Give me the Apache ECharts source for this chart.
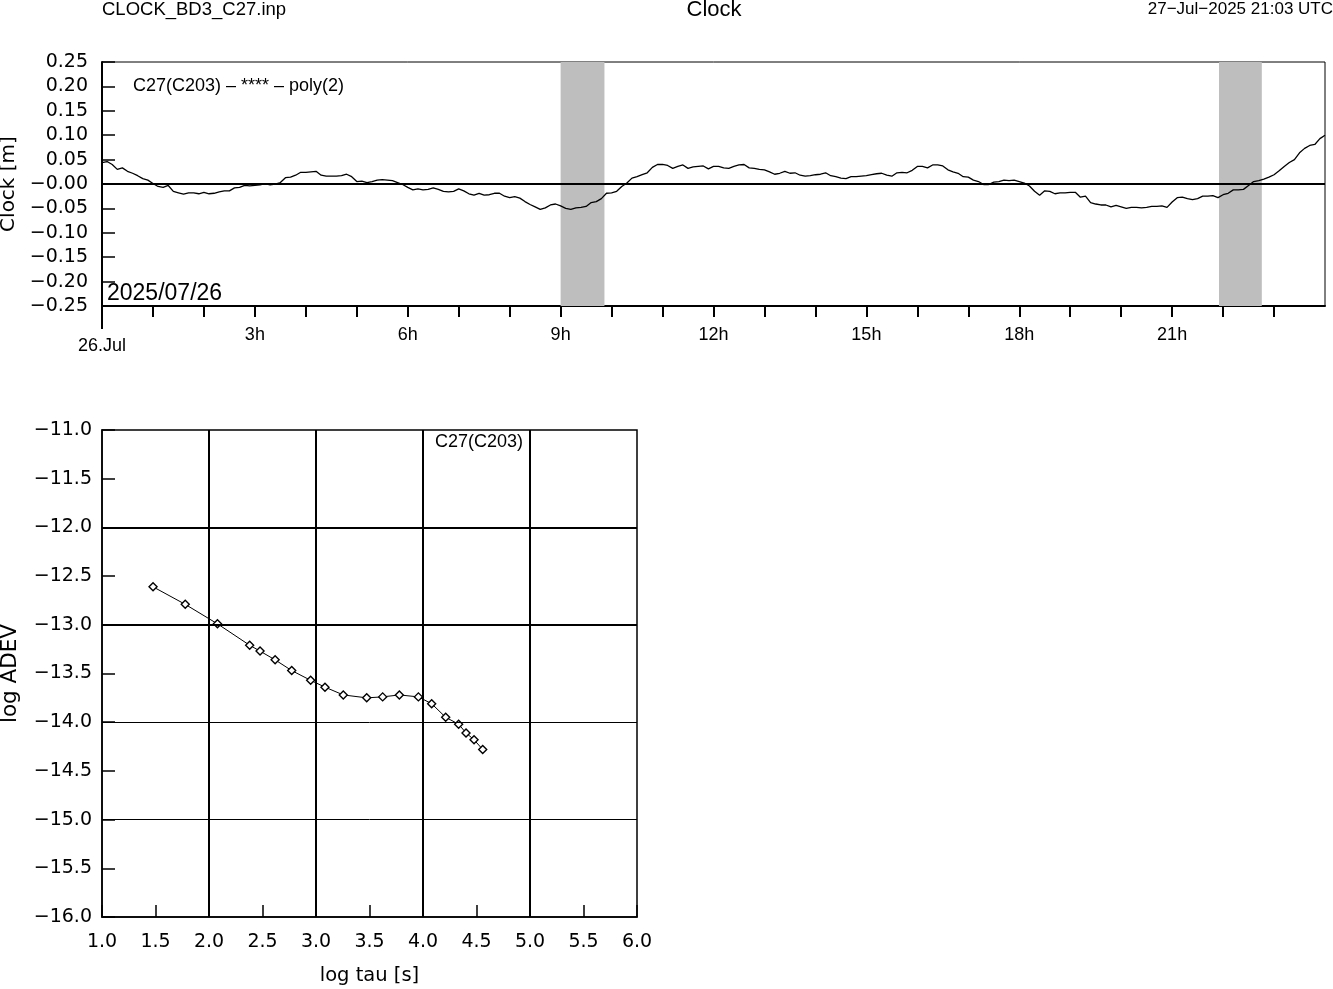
<!DOCTYPE html>
<html>
<head>
<meta charset="utf-8">
<script src="https://cdn.jsdelivr.net/npm/echarts@6/dist/echarts.min.js"></script>
<style>
html,body{margin:0;padding:0;background:#fff;}
#c{width:1333px;height:989px;}
</style>
</head>
<body>
<div id="c"></div>
<script>
// ---------- data ----------
const headerLeft = 'CLOCK_BD3_C27.inp';
const headerTitle = 'Clock';
const headerRight = '27\u2212Jul\u22122025 21:03 UTC';
const clockLegend = 'C27(C203) \u2013 **** \u2013 poly(2)';
const clockDateLabel = '2025/07/26';
const adevLegend = 'C27(C203)';

// clock residuals [m], sampled every 0.1 h from 0 h to 24 h
const clockStartHour = 0;
const clockStepHour = 0.1;
const clockValues = [
  0.044, 0.046, 0.040, 0.030, 0.033, 0.026, 0.022, 0.017, 0.011, 0.008,
  0.001, -0.005, -0.007, -0.003, -0.015, -0.018, -0.021, -0.018, -0.018, -0.020,
  -0.017, -0.020, -0.019, -0.016, -0.014, -0.014, -0.008, -0.007, -0.003, -0.004,
  -0.003, -0.002, 0.001, -0.002, 0.000, 0.003, 0.013, 0.014, 0.018, 0.024,
  0.024, 0.025, 0.026, 0.018, 0.016, 0.016, 0.016, 0.017, 0.020, 0.015,
  0.005, 0.006, 0.003, 0.005, 0.008, 0.009, 0.008, 0.007, 0.003, -0.001,
  -0.007, -0.012, -0.010, -0.012, -0.011, -0.008, -0.011, -0.015, -0.016, -0.015,
  -0.010, -0.014, -0.020, -0.023, -0.019, -0.023, -0.022, -0.019, -0.019, -0.025,
  -0.028, -0.026, -0.029, -0.036, -0.042, -0.047, -0.052, -0.049, -0.043, -0.041,
  -0.045, -0.050, -0.052, -0.049, -0.048, -0.046, -0.038, -0.036, -0.030, -0.019,
  -0.018, -0.015, -0.005, 0.002, 0.012, 0.015, 0.019, 0.023, 0.034, 0.040,
  0.040, 0.038, 0.032, 0.036, 0.039, 0.032, 0.035, 0.036, 0.037, 0.031,
  0.036, 0.036, 0.033, 0.032, 0.036, 0.039, 0.040, 0.033, 0.032, 0.030,
  0.029, 0.025, 0.020, 0.022, 0.026, 0.022, 0.023, 0.018, 0.016, 0.017,
  0.019, 0.020, 0.023, 0.017, 0.015, 0.012, 0.011, 0.015, 0.015, 0.016,
  0.017, 0.019, 0.021, 0.022, 0.018, 0.016, 0.023, 0.024, 0.023, 0.028,
  0.036, 0.036, 0.033, 0.039, 0.039, 0.037, 0.029, 0.025, 0.022, 0.015,
  0.014, 0.008, 0.005, -0.001, -0.001, 0.004, 0.005, 0.008, 0.007, 0.008,
  0.005, 0.002, -0.004, -0.015, -0.023, -0.014, -0.015, -0.020, -0.018, -0.018,
  -0.017, -0.017, -0.027, -0.025, -0.038, -0.041, -0.043, -0.043, -0.047, -0.044,
  -0.047, -0.050, -0.048, -0.048, -0.049, -0.048, -0.046, -0.046, -0.045, -0.048,
  -0.037, -0.028, -0.027, -0.030, -0.032, -0.030, -0.025, -0.025, -0.024, -0.028,
  -0.022, -0.019, -0.012, -0.012, -0.011, -0.003, 0.005, 0.007, 0.010, 0.014,
  0.019, 0.027, 0.036, 0.044, 0.050, 0.064, 0.073, 0.079, 0.081, 0.093,
  0.100
];
// data gaps (gray bands), hours
const gapStarts = [9.0, 21.92];
const gapEnds = [9.86, 22.76];

// Allan deviation
const logTau = [1.477, 1.778, 2.079, 2.380, 2.477, 2.618, 2.773, 2.950, 3.084, 3.255,
                3.474, 3.623, 3.779, 3.957, 4.081, 4.212, 4.333, 4.402, 4.477, 4.558];
const logAdev = [-12.61, -12.79, -12.99, -13.21, -13.27, -13.36, -13.47, -13.57, -13.64, -13.72,
                 -13.75, -13.74, -13.72, -13.74, -13.81, -13.95, -14.02, -14.11, -14.18, -14.28];
const adevThickLinesX = [2, 3, 4, 5];
const adevThickLinesY = [-12, -13];
const adevThinLinesY = [-14, -15];

// ---------- chart ----------
const FONT = 'Liberation Sans';
const WIDE = 'DejaVu Sans';
const minus = s => s.replace('-', '\u2212');
const clockData = clockValues.map((v, i) => [+(clockStartHour + i * clockStepHour).toFixed(2), v]);
const adevData = logTau.map((t, i) => [t, logAdev[i]]);

const chart = echarts.init(document.getElementById('c'), null, {renderer: 'canvas'});
const option = {
  backgroundColor: '#fff',
  animation: false,
  textStyle: {fontFamily: FONT, color: '#000'},
  grid: [
    {left: 102, top: 62, width: 1223, height: 244, containLabel: false, outerBoundsMode: 'none',
     show: true, borderColor: '#000', borderWidth: 1, backgroundColor: 'transparent'},
    {left: 102, top: 430, width: 535, height: 487, containLabel: false, outerBoundsMode: 'none',
     show: true, borderColor: '#000', borderWidth: 1.5, backgroundColor: 'transparent'}
  ],
  xAxis: [
    {
      gridIndex: 0, type: 'value', min: 0, max: 24, interval: 1,
      axisLine: {onZero: false, lineStyle: {color: '#000', width: 2}},
      axisTick: {inside: false, length: 11, lineStyle: {color: '#000', width: 2}},
      axisLabel: {
        margin: 20, fontSize: 18, fontFamily: FONT, color: '#000',
        showMinLabel: true, showMaxLabel: false,
        formatter: v => v === 0 ? '{d|26.Jul}' : (v % 3 === 0 && v < 24 ? v + 'h' : ''),
        rich: {d: {fontSize: 18, fontFamily: FONT, color: '#000', padding: [11, 0, 0, 0]}}
      },
      splitLine: {show: false}
    },
    {
      gridIndex: 1, type: 'value', min: 1, max: 6, interval: 0.5,
      name: 'log tau [s]', nameLocation: 'middle', nameGap: 49,
      nameTextStyle: {fontSize: 19.5, fontFamily: WIDE, color: '#000'},
      axisLine: {onZero: false, lineStyle: {color: '#000', width: 1.5}},
      axisTick: {inside: true, length: 12, lineStyle: {color: '#000', width: 1.5}},
      axisLabel: {margin: 16, fontSize: 19, fontFamily: WIDE, color: '#000', formatter: v => minus(v.toFixed(1))},
      splitLine: {show: false}
    }
  ],
  yAxis: [
    {
      gridIndex: 0, type: 'value', min: -0.25, max: 0.25, interval: 0.05,
      name: 'Clock [m]', nameLocation: 'middle', nameGap: 81,
      nameTextStyle: {fontSize: 20, fontFamily: WIDE, color: '#000'},
      axisLine: {onZero: false, lineStyle: {color: '#000', width: 2}},
      axisTick: {inside: true, length: 13, lineStyle: {color: '#000', width: 1.5}},
      axisLabel: {margin: 14, fontSize: 19, fontFamily: WIDE, color: '#000',
        formatter: v => Math.abs(v) < 1e-9 ? '\u22120.00' : minus(v.toFixed(2))},
      splitLine: {show: false}
    },
    {
      gridIndex: 1, type: 'value', min: -16, max: -11, interval: 0.5,
      name: 'log ADEV', nameLocation: 'middle', nameGap: 81,
      nameTextStyle: {fontSize: 21.5, fontFamily: WIDE, color: '#000'},
      axisLine: {onZero: false, lineStyle: {color: '#000', width: 1.5}},
      axisTick: {inside: true, length: 13, lineStyle: {color: '#000', width: 1.5}},
      axisLabel: {margin: 10, fontSize: 19, fontFamily: WIDE, color: '#000', formatter: v => minus(v.toFixed(1))},
      splitLine: {show: false}
    }
  ],
  series: [
    {
      type: 'line', xAxisIndex: 0, yAxisIndex: 0, z: 1,
      data: [[0, 0], [24, 0]], symbol: 'none', silent: true,
      lineStyle: {color: '#000', width: 2}
    },
    {
      type: 'line', xAxisIndex: 0, yAxisIndex: 0, z: 2, data: [], symbol: 'none', silent: true,
      markArea: {
        silent: true,
        itemStyle: {color: '#bebebe', opacity: 1},
        data: gapStarts.map((s, i) => [{xAxis: s}, {xAxis: gapEnds[i]}])
      }
    },
    {
      type: 'line', xAxisIndex: 0, yAxisIndex: 0, z: 3,
      data: clockData, symbol: 'none',
      lineStyle: {color: '#000', width: 1.3}
    },
    {
      type: 'line', xAxisIndex: 1, yAxisIndex: 1, z: 1, data: [], symbol: 'none', silent: true,
      markLine: {
        silent: true, symbol: 'none', label: {show: false},
        data: [
          ...adevThickLinesX.map(x => ({xAxis: x, lineStyle: {color: '#000', width: 2, type: 'solid'}})),
          ...adevThickLinesY.map(y => ({yAxis: y, lineStyle: {color: '#000', width: 2, type: 'solid'}})),
          ...adevThinLinesY.map(y => ({yAxis: y, lineStyle: {color: '#000', width: 1, type: 'solid'}}))
        ]
      }
    },
    {
      type: 'line', xAxisIndex: 1, yAxisIndex: 1, z: 3,
      data: adevData, symbol: 'diamond', symbolSize: 8, showAllSymbol: true,
      itemStyle: {color: '#fff', borderColor: '#000', borderWidth: 1.4},
      lineStyle: {color: '#000', width: 1}
    }
  ],
  graphic: [
    {type: 'text', left: 102, top: 0, style: {text: headerLeft, font: '18.5px "Liberation Sans"', fill: '#000'}},
    {type: 'text', x: 714, y: 10, style: {text: headerTitle, font: '22px "Liberation Sans"', fill: '#000', align: 'center', verticalAlign: 'middle'}},
    {type: 'text', right: 0, top: 1, style: {text: headerRight, font: '17px "Liberation Sans"', fill: '#000'}},
    {type: 'text', left: 133, top: 77, style: {text: clockLegend, font: '18px "Liberation Sans"', fill: '#000'}},
    {type: 'text', left: 107, top: 282, style: {text: clockDateLabel, font: '23px "Liberation Sans"', fill: '#000'}},
    {type: 'text', left: 435, top: 433, style: {text: adevLegend, font: '18px "Liberation Sans"', fill: '#000'}},
    {type: 'line', shape: {x1: 102, y1: 306, x2: 102, y2: 329}, style: {stroke: '#000', lineWidth: 2}}
  ]
};
chart.setOption(option);
</script>
</body>
</html>
